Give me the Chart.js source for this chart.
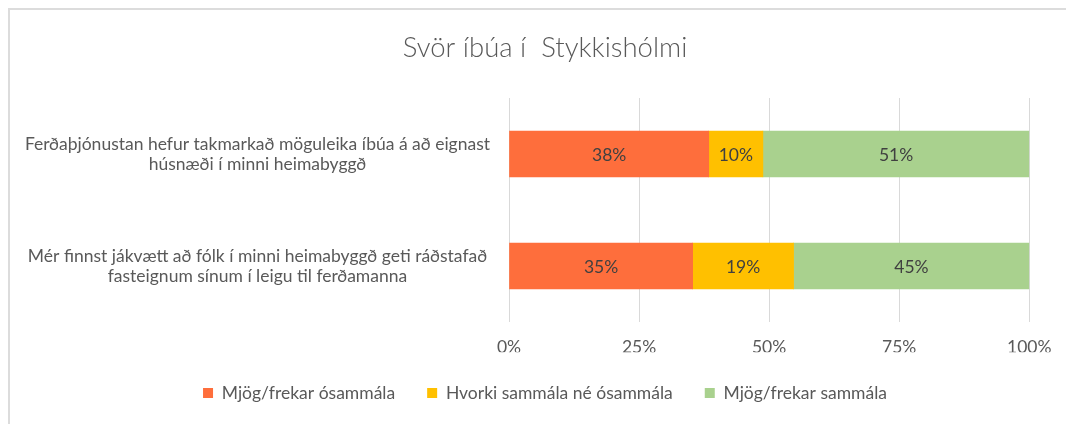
<!DOCTYPE html>
<html>
<head>
<meta charset="utf-8">
<script src="https://cdn.jsdelivr.net/npm/chart.js@4"></script>
<style>
  body { margin: 0; background: #fff; }
  #wrap { position: relative; width: 1066px; height: 424px; }
  #frame { position: absolute; left: 8px; top: 8px; right: -4px; bottom: -4px;
           border-left: 2px solid #dcdcdc; border-top: 2px solid #dcdcdc; pointer-events: none; }
</style>
</head>
<body>
<div id="wrap">
  <canvas id="c" width="1066" height="424"></canvas>
  <div id="frame"></div>
</div>
<script>
// Données
const titre = 'Svör íbúa í  Stykkishólmi';
const categories = [
  ['Ferðaþjónustan hefur takmarkað möguleika íbúa á að eignast', 'húsnæði í minni heimabyggð'],
  ['Mér finnst jákvætt að fólk í minni heimabyggð geti ráðstafað', 'fasteignum sínum í leigu til ferðamanna']
];
const seriesNames = ['Mjög/frekar ósammála', 'Hvorki sammála né ósammála', 'Mjög/frekar sammála'];
const osammala = [38.4, 35.3];
const hvorki = [10.4, 19.4];
const sammala = [51.2, 45.3];
const xTicks = [0, 25, 50, 75, 100];

const couleurs = ['#FE6E3C', '#FFC000', '#A9D18E'];
const texte = '#595959';
const taille = 17.5;

// étiquettes de valeur au centre de chaque segment
const valueLabels = {
  id: 'valueLabels',
  afterDatasetsDraw(chart) {
    const ctx = chart.ctx;
    ctx.save();
    ctx.font = taille + 'px Lato';
    ctx.fillStyle = '#404040';
    ctx.textAlign = 'center';
    ctx.textBaseline = 'middle';
    chart.data.datasets.forEach((ds, i) => {
      chart.getDatasetMeta(i).data.forEach((bar, j) => {
        const v = ds.data[j];
        ctx.fillText(Math.round(v) + '%', (bar.x + bar.base) / 2, bar.y + 1);
      });
    });
    ctx.restore();
  }
};

// hauteur de la légende ajustée
const legendHeight = {
  id: 'legendHeight',
  beforeInit(chart) {
    const fit = chart.legend.fit;
    chart.legend.fit = function () {
      fit.call(this);
      this.height = 71.75;
    };
  }
};

new Chart(document.getElementById('c'), {
  type: 'bar',
  data: {
    labels: categories,
    datasets: [
      { label: seriesNames[0], data: osammala, backgroundColor: couleurs[0] },
      { label: seriesNames[1], data: hvorki, backgroundColor: couleurs[1] },
      { label: seriesNames[2], data: sammala, backgroundColor: couleurs[2] }
    ]
  },
  options: {
    indexAxis: 'y',
    responsive: false,
    animation: false,
    maintainAspectRatio: false,
    datasets: { bar: { barThickness: 46, borderWidth: 0 } },
    layout: { padding: { left: 60, right: 36, top: 0, bottom: 0 } },
    scales: {
      x: {
        stacked: true, min: 0, max: 100,
        afterBuildTicks: scale => { scale.ticks = xTicks.map(v => ({ value: v })); },
        afterFit: scale => { scale.height = 30.25; },
        grid: { color: '#d9d9d9', lineWidth: 1, drawTicks: false },
        border: { display: false },
        ticks: { padding: 14.5, color: texte, font: { family: 'Lato', size: taille }, callback: v => v + '%' }
      },
      y: {
        stacked: true,
        afterFit: scale => {
          scale.width = 449;
          // les libellés débordent à gauche : pas de découpe
          scale._computeLabelArea = () => null;
        },
        grid: { display: false, drawTicks: false },
        border: { display: false },
        ticks: { padding: 19, crossAlign: 'center', color: texte,
                 font: { family: 'Lato', size: taille, lineHeight: 1.15 } }
      }
    },
    plugins: {
      title: {
        display: true, text: titre, color: texte,
        font: { family: 'Lato', size: 27.5, weight: '300' },
        padding: { top: 31.5, bottom: 33.5 }
      },
      legend: {
        position: 'bottom',
        labels: { boxWidth: 10, boxHeight: 10, padding: 32, color: texte,
                  font: { family: 'Lato', size: taille } }
      },
      tooltip: { enabled: false }
    }
  },
  plugins: [valueLabels, legendHeight]
});
</script>
</body>
</html>
